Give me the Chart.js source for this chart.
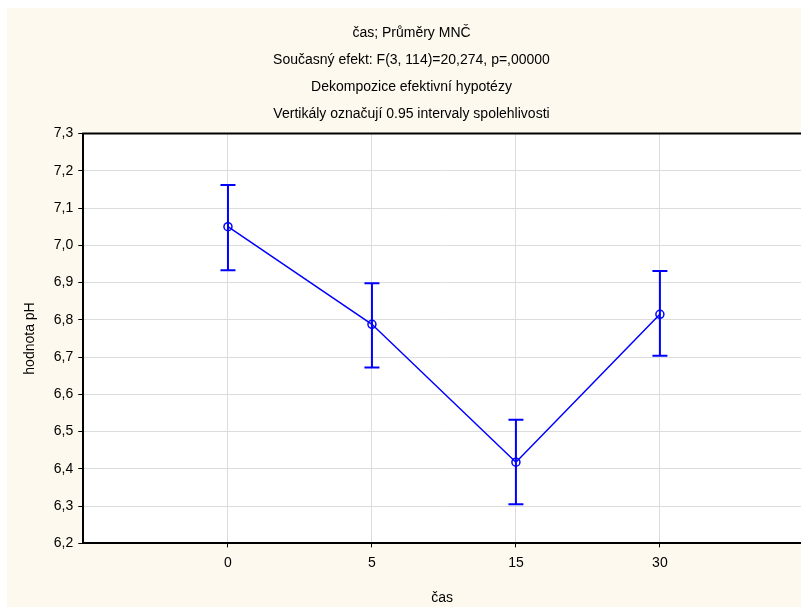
<!DOCTYPE html>
<html>
<head>
<meta charset="utf-8">
<script src="https://cdn.jsdelivr.net/npm/chart.js@4"></script>
<style>
  html, body { margin: 0; padding: 0; background: #fff; }
  #wrap { width: 801px; height: 607px; }
</style>
</head>
<body>
<div id="wrap"><canvas id="chart" width="801" height="607"></canvas></div>
<script>
// data
const categories = ['0', '5', '15', '30'];
const means = [7.05, 6.788, 6.418, 6.815];
const lowerCI = [6.933, 6.672, 6.305, 6.704];
const upperCI = [7.162, 6.898, 6.532, 6.931];
const titleLines = [
  'čas; Průměry MNČ',
  'Současný efekt: F(3, 114)=20,274, p=,00000',
  'Dekompozice efektivní hypotézy',
  'Vertikály označují 0.95 intervaly spolehlivosti'
];
const yMin = 6.2, yMax = 7.3, yStep = 0.1;

const BLUE = '#0000ff';
const FONT = 'Arial, "Liberation Sans", sans-serif';

// pozadí: bílý okraj, krémová plocha, bílá oblast grafu
const bgPlugin = {
  id: 'bg',
  beforeDraw(chart) {
    const { ctx, chartArea: a, width, height } = chart;
    ctx.save();
    ctx.fillStyle = '#ffffff';
    ctx.fillRect(0, 0, width, height);
    ctx.fillStyle = '#fef9ee';
    ctx.fillRect(7, 8, width - 7, height - 8);
    ctx.fillStyle = '#ffffff';
    ctx.fillRect(a.left, a.top, a.right - a.left, a.bottom - a.top);
    ctx.restore();
  },
  afterDraw(chart) {
    // horní okraj rámu
    const { ctx, chartArea: a } = chart;
    ctx.save();
    ctx.strokeStyle = '#000';
    ctx.lineWidth = 2;
    ctx.beginPath();
    ctx.moveTo(a.left - 1, a.top);
    ctx.lineTo(a.right, a.top);
    ctx.stroke();
    ctx.restore();
  }
};

// chybové úsečky (intervaly spolehlivosti)
const errorBars = {
  id: 'errorBars',
  beforeDatasetsDraw(chart) {
    const { ctx, scales: { x, y } } = chart;
    ctx.save();
    ctx.strokeStyle = BLUE;
    ctx.lineWidth = 2;
    categories.forEach((c, i) => {
      const px = x.getPixelForValue(i);
      const top = y.getPixelForValue(upperCI[i]);
      const bot = y.getPixelForValue(lowerCI[i]);
      ctx.beginPath();
      ctx.moveTo(px, top); ctx.lineTo(px, bot);
      ctx.moveTo(px - 7.5, top); ctx.lineTo(px + 7.5, top);
      ctx.moveTo(px - 7.5, bot); ctx.lineTo(px + 7.5, bot);
      ctx.stroke();
    });
    ctx.restore();
  }
};

new Chart(document.getElementById('chart'), {
  type: 'line',
  data: {
    datasets: [{
      data: means.map((v, i) => ({ x: i, y: v })),
      borderColor: BLUE,
      borderWidth: 1.5,
      pointRadius: 4,
      pointBorderWidth: 1.5,
      pointBorderColor: BLUE,
      pointBackgroundColor: 'rgba(0,0,0,0)',
      tension: 0
    }]
  },
  options: {
    responsive: false,
    animation: false,
    layout: { autoPadding: false, padding: { left: 22, right: 0, top: 0, bottom: 0 } },
    plugins: {
      legend: { display: false },
      tooltip: { enabled: false },
      title: {
        display: true,
        text: titleLines,
        color: '#000',
        font: { family: FONT, size: 14, weight: 'normal', lineHeight: 1.93 },
        padding: { top: 19.5, bottom: 6 }
      }
    },
    scales: {
      x: {
        type: 'linear',
        min: -1.005,
        max: 3.98,
        afterBuildTicks: s => { s.ticks = categories.map((c, i) => ({ value: i })); },
        ticks: {
          color: '#000',
          font: { family: FONT, size: 14 },
          padding: 7,
          maxRotation: 0,
          autoSkip: false,
          callback: v => categories[v]
        },
        grid: { color: '#dcdcdc', tickColor: '#000', tickLength: 4, lineWidth: 1 },
        border: { color: '#000', width: 2 },
        title: {
          display: true,
          text: 'čas',
          color: '#000',
          font: { family: FONT, size: 14 },
          padding: { top: 12, bottom: 0 }
        }
      },
      y: {
        min: yMin,
        max: yMax,
        ticks: {
          stepSize: yStep,
          color: '#000',
          font: { family: FONT, size: 14 },
          padding: 5,
          callback: v => v.toFixed(1).replace('.', ',')
        },
        grid: { color: '#dcdcdc', tickColor: '#000', tickLength: 5, lineWidth: 1 },
        border: { color: '#000', width: 2 },
        title: {
          display: true,
          text: 'hodnota pH',
          color: '#000',
          font: { family: FONT, size: 14 },
          padding: { top: 0, bottom: 10 }
        }
      }
    }
  },
  plugins: [bgPlugin, errorBars]
});
</script>
</body>
</html>
